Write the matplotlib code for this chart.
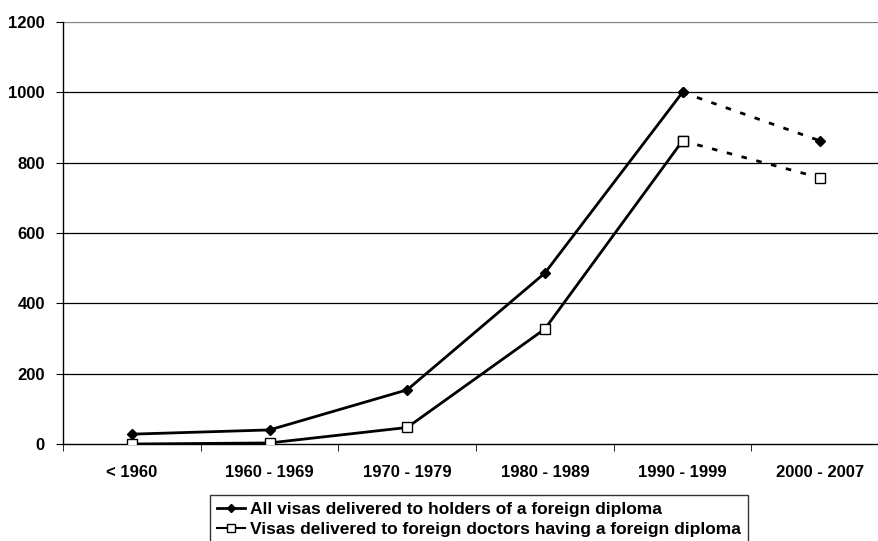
import matplotlib.pyplot as plt
from matplotlib.lines import Line2D

plt.rcParams['font.family'] = ['Liberation Sans', 'DejaVu Sans']
plt.rcParams['font.weight'] = 'bold'

periods = ['< 1960', '1960 - 1969', '1970 - 1979', '1980 - 1989', '1990 - 1999', '2000 - 2007']
all_visas = [28, 40, 154, 486, 1000, 862]
doctor_visas = [0, 3, 47, 327, 862, 757]
label_all = 'All visas delivered to holders of a foreign diploma'
label_doc = 'Visas delivered to foreign doctors having a foreign diploma'
y_ticks = [0, 200, 400, 600, 800, 1000, 1200]

fig = plt.figure(figsize=(8.79, 5.41), dpi=100)
ax = fig.add_axes([63 / 879, 97 / 541, 826 / 879, 422 / 541])

x = list(range(len(periods)))

# horizontal grid
for v in y_ticks[1:]:
    ax.axhline(v, color='#808080' if v == 1200 else 'black', lw=0.9, zorder=1)

# solid part then dashed last segment
ax.plot(x[:5], all_visas[:5], color='black', lw=2, marker='D', ms=5.5,
        mfc='black', mec='black', zorder=3)
ax.plot(x[4:], all_visas[4:], color='black', lw=2, ls=(0, (2, 3.5)), marker='D', ms=5.5,
        mfc='black', mec='black', zorder=3)
ax.plot(x[:5], doctor_visas[:5], color='black', lw=2, marker='s', ms=6.8,
        mfc='white', mec='black', mew=1, zorder=3)
ax.plot(x[4:], doctor_visas[4:], color='black', lw=2, ls=(0, (2, 3.5)), marker='s', ms=6.8,
        mfc='white', mec='black', mew=1, zorder=3)

ax.set_xlim(-0.5, 5.5)
ax.set_ylim(0, 1200)
ax.set_yticks(y_ticks)
ax.set_xticks(x)
ax.set_xticklabels(periods)
ax.set_xticks([i + 0.5 for i in range(-1, 6)], minor=True)
ax.tick_params(axis='x', which='major', length=0, pad=15, labelsize=12)
ax.tick_params(axis='x', which='minor', length=5, direction='out')
ax.tick_params(axis='y', length=5, direction='out', labelsize=12, pad=8)

for s in ['top', 'right']:
    ax.spines[s].set_visible(False)
ax.spines['left'].set_linewidth(1)
ax.spines['bottom'].set_linewidth(1)

handles = [
    Line2D([], [], color='black', lw=2, marker='D', ms=4.5, mfc='black'),
    Line2D([], [], color='black', lw=1.5, marker='s', ms=6, mfc='white', mew=1),
]
leg = fig.legend(handles, [label_all, label_doc], loc='upper left',
                 bbox_to_anchor=(210 / 879, 1 - 495 / 541), frameon=True,
                 fancybox=False, edgecolor='black', fontsize=12.5,
                 handlelength=1.6, handletextpad=0.3, borderpad=0.4,
                 labelspacing=0.25, borderaxespad=0)
leg.get_frame().set_linewidth(1)

plt.savefig('out.png', dpi=100)
